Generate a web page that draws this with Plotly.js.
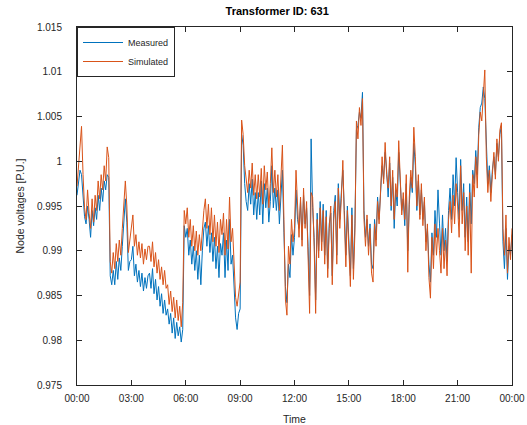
<!DOCTYPE html>
<html>
<head>
<meta charset="utf-8">
<script src="https://cdn.plot.ly/plotly-3.0.1.min.js"></script>
<style>html,body{margin:0;padding:0;background:#fff;}#chart{width:527px;height:425px;}</style>
</head>
<body>
<div id="chart"></div>
<script>
// 5-minute samples from 00:00 to 24:00 (289 points)
const stepMinutes = 5;
const tickHours = [0, 3, 6, 9, 12, 15, 18, 21, 24];
const tickLabels = ["00:00", "03:00", "06:00", "09:00", "12:00", "15:00", "18:00", "21:00", "00:00"];
const yTickVals = [0.975, 0.98, 0.985, 0.99, 0.995, 1, 1.005, 1.01, 1.015];
const yTickLabels = ["0.975", "0.98", "0.985", "0.99", "0.995", "1", "1.005", "1.01", "1.015"];

const simulated = [
  0.9972, 0.9995, 1.0018, 1.0039, 0.9985, 0.9948, 0.9935, 0.9968, 0.9942, 0.9925, 0.9958, 0.9932,
  0.9962, 0.9945, 0.9978, 0.9958, 0.9985, 0.9968, 0.9995, 0.9978, 1.0016, 1.0004, 0.9888, 0.9875,
  0.9898, 0.9880, 0.9908, 0.9888, 0.9912, 0.9895, 0.9925, 0.9958, 0.9978, 0.9950, 0.9898, 0.9912,
  0.9925, 0.9940, 0.9905, 0.9918, 0.9895, 0.9910, 0.9892, 0.9908, 0.9885, 0.9902, 0.9890, 0.9905,
  0.9905, 0.9888, 0.9910, 0.9882, 0.9898, 0.9875, 0.9890, 0.9868, 0.9882, 0.9862, 0.9878, 0.9858,
  0.9862, 0.9840, 0.9855, 0.9832, 0.9848, 0.9825, 0.9845, 0.9822, 0.9838, 0.9815, 0.9842, 0.9945,
  0.9930, 0.9948, 0.9915, 0.9935, 0.9905, 0.9928, 0.9900, 0.9922, 0.9895, 0.9918, 0.9900, 0.9925,
  0.9945, 0.9958, 0.9925, 0.9952, 0.9918, 0.9948, 0.9910, 0.9940, 0.9905, 0.9932, 0.9898, 0.9935,
  0.9918, 0.9942, 0.9895, 0.9935, 0.9902, 0.9960, 0.9910, 0.9925, 0.9880, 0.9848, 0.9838, 0.9855,
  0.9865, 1.0046, 1.0030, 0.9995, 0.9978, 0.9965, 0.9990, 0.9970, 0.9998, 0.9962, 0.9985, 0.9958,
  0.9985, 0.9960, 0.9992, 0.9952, 0.9995, 0.9968, 0.9988, 0.9948, 0.9975, 1.0015, 0.9965, 0.9990,
  0.9960, 0.9985, 0.9945, 0.9975, 1.0018, 0.9935, 0.9845, 0.9828, 0.9905, 0.9885, 0.9935, 0.9910,
  0.9925, 0.9990, 0.9945, 0.9915, 0.9960, 0.9905, 0.9970, 0.9925, 0.9955, 0.9895, 0.9830, 0.9965,
  0.9960, 0.9905, 0.9830, 0.9935, 0.9892, 0.9948, 0.9900, 0.9945, 0.9885, 0.9938, 0.9870, 0.9925,
  0.9950, 0.9862, 0.9935, 0.9955, 0.9885, 0.9970, 0.9925, 0.9958, 1.0001, 0.9935, 0.9882, 0.9945,
  0.9905, 0.9860, 0.9940, 0.9868, 0.9920, 1.0045, 1.0025, 1.0060, 1.0040, 1.0070, 0.9935, 0.9905,
  0.9940, 0.9895, 0.9925, 0.9875, 0.9865, 0.9930, 0.9905, 0.9955, 0.9930, 0.9965, 1.0005, 0.9975,
  1.0021, 0.9985, 0.9970, 1.0005, 0.9950, 0.9990, 0.9935, 0.9975, 0.9960, 1.0023, 0.9975, 0.9940,
  0.9965, 0.9935, 0.9985, 0.9876, 0.9960, 0.9990, 0.9970, 1.0038, 1.0005, 0.9950, 0.9985, 0.9935,
  0.9975, 0.9928, 0.9960, 0.9900, 0.9930, 0.9870, 0.9847, 0.9915, 0.9880, 0.9930, 0.9895, 0.9925,
  0.9900, 0.9875, 0.9925, 0.9880, 0.9912, 0.9872, 0.9935, 0.9955, 0.9920, 0.9962, 0.9930, 0.9975,
  0.9950, 0.9915, 0.9995, 0.9930, 0.9965, 0.9900, 0.9950, 0.9895, 0.9965, 0.9875, 0.9985, 0.9960,
  1.0005, 0.9970, 1.0030, 1.0055, 1.0045, 1.0080, 1.0102, 1.0005, 0.9965, 0.9990, 0.9955, 0.9985,
  1.0010, 0.9980, 1.0025, 1.0000, 1.0035, 1.0043, 0.9925, 0.9895, 0.9940, 0.9875, 0.9915, 0.9890, 0.9925
];

const measured = [
  0.9962, 0.9978, 0.9990, 0.9985, 0.9960, 0.9938, 0.9930, 0.9950, 0.9935, 0.9915, 0.9945, 0.9928,
  0.9948, 0.9935, 0.9962, 0.9945, 0.9970, 0.9955, 0.9978, 0.9968, 0.9985, 0.9982, 0.9872, 0.9862,
  0.9878, 0.9862, 0.9888, 0.9868, 0.9892, 0.9878, 0.9905, 0.9940, 0.9958, 0.9932, 0.9878, 0.9888,
  0.9890, 0.9905, 0.9872, 0.9885, 0.9865, 0.9878, 0.9860, 0.9875, 0.9855, 0.9870, 0.9858, 0.9872,
  0.9875, 0.9858, 0.9880, 0.9852, 0.9868, 0.9845, 0.9860, 0.9838, 0.9852, 0.9830, 0.9845, 0.9828,
  0.9835, 0.9818, 0.9830, 0.9808, 0.9825, 0.9802, 0.9820, 0.9805, 0.9815, 0.9798, 0.9812, 0.9928,
  0.9915, 0.9925, 0.9895, 0.9912, 0.9885, 0.9905, 0.9878, 0.9900, 0.9868, 0.9895, 0.9862, 0.9900,
  0.9925, 0.9932, 0.9905, 0.9928, 0.9898, 0.9920, 0.9888, 0.9915, 0.9880, 0.9905, 0.9870, 0.9908,
  0.9895, 0.9920, 0.9870, 0.9912, 0.9878, 0.9935, 0.9885, 0.9895, 0.9855, 0.9825, 0.9812, 0.9830,
  0.9835, 1.0030, 1.0018, 0.9975, 0.9955, 0.9945, 0.9975, 0.9952, 0.9980, 0.9940, 0.9965, 0.9935,
  0.9965, 0.9940, 0.9978, 0.9930, 0.9975, 0.9948, 0.9970, 0.9932, 0.9955, 0.9995, 0.9948, 0.9970,
  0.9945, 0.9968, 0.9930, 0.9960, 0.9990, 0.9920, 0.9860, 0.9842, 0.9885, 0.9870, 0.9918, 0.9895,
  0.9915, 0.9968, 0.9935, 0.9925, 0.9955, 0.9912, 0.9962, 0.9930, 0.9948, 0.9905, 0.9850, 1.0025,
  0.9948, 0.9915, 0.9845, 0.9942, 0.9900, 0.9955, 0.9910, 0.9952, 0.9895, 0.9945, 0.9880, 0.9930,
  0.9942, 0.9872, 0.9945, 0.9962, 0.9895, 0.9975, 0.9935, 0.9965, 0.9990, 0.9945, 0.9895, 0.9950,
  0.9912, 0.9872, 0.9948, 0.9880, 0.9930, 1.0035, 1.0040, 1.0055, 1.0048, 1.0077, 0.9945, 0.9915,
  0.9935, 0.9905, 0.9930, 0.9885, 0.9880, 0.9935, 0.9912, 0.9960, 0.9935, 0.9968, 0.9995, 0.9980,
  1.0010, 0.9990, 0.9960, 0.9998, 0.9945, 0.9982, 0.9925, 0.9968, 0.9950, 1.0010, 0.9968, 0.9945,
  0.9958, 0.9928, 0.9975, 0.9900, 0.9952, 0.9982, 0.9965, 1.0020, 0.9995, 0.9945, 0.9978, 0.9940,
  0.9968, 0.9935, 0.9955, 0.9910, 0.9925, 0.9885, 0.9865, 0.9920, 0.9895, 0.9945, 0.9915, 0.9968,
  0.9930, 0.9895, 0.9940, 0.9900, 0.9925, 0.9888, 0.9945, 0.9970, 0.9935, 0.9985, 0.9950, 1.0004,
  0.9965, 0.9935, 1.0002, 0.9945, 0.9975, 0.9915, 0.9960, 0.9910, 0.9975, 0.9930, 0.9990, 0.9975,
  1.0012, 0.9985, 1.0038, 1.0060, 1.0065, 1.0083, 1.0070, 1.0010, 0.9975, 0.9995, 0.9965, 0.9990,
  1.0005, 0.9985, 1.0020, 1.0005, 1.0030, 1.0040, 0.9910, 0.9880, 0.9925, 0.9868, 0.9905, 0.9895, 0.9918
];

const hours = measured.map((_, i) => i * stepMinutes / 60);

const FONT = "'Liberation Sans', Arial, Helvetica, sans-serif";
const INK = "#262626";

const traces = [
  {x: hours, y: measured, type: "scatter", mode: "lines", name: "Measured",
   line: {color: "#0072BD", width: 1}},
  {x: hours, y: simulated, type: "scatter", mode: "lines", name: "Simulated",
   line: {color: "#D95319", width: 1}}
];

const axisCommon = {
  showline: true, linecolor: INK, linewidth: 1, mirror: "allticks",
  ticks: "inside", ticklen: 5, tickwidth: 1, tickcolor: INK,
  showgrid: false, zeroline: false,
  tickfont: {family: FONT, size: 10, color: INK}
};

const layout = {
  width: 527, height: 425,
  margin: {l: 77, r: 15, t: 27, b: 40},
  paper_bgcolor: "#fff", plot_bgcolor: "#fff",
  font: {family: FONT, color: INK},
  title: {text: "<b>Transformer ID: 631</b>", font: {family: FONT, size: 11, color: "#000"},
          xref: "container", x: 0.526, xanchor: "center", yref: "container", y: 0.974, yanchor: "middle"},
  xaxis: Object.assign({}, axisCommon, {
    range: [0, 24], tickvals: tickHours, ticktext: tickLabels,
    ticklabelstandoff: 4,
    title: {text: "Time", font: {family: FONT, size: 10.5, color: INK}, standoff: 12}
  }),
  yaxis: Object.assign({}, axisCommon, {
    range: [0.975, 1.015], tickvals: yTickVals, ticktext: yTickLabels,
    ticklabelstandoff: 12,
    title: {text: "Node voltages [P.U.]", font: {family: FONT, size: 10.5, color: INK}, standoff: 10}
  }),
  legend: {x: 0, y: 1, xanchor: "left", yanchor: "top", bgcolor: "#fff",
           bordercolor: INK, borderwidth: 1, font: {family: FONT, size: 9, color: INK},
           itemwidth: 40, tracegroupgap: 0},
  showlegend: true
};

Plotly.newPlot("chart", traces, layout, {displayModeBar: false, staticPlot: true});
</script>
</body>
</html>
